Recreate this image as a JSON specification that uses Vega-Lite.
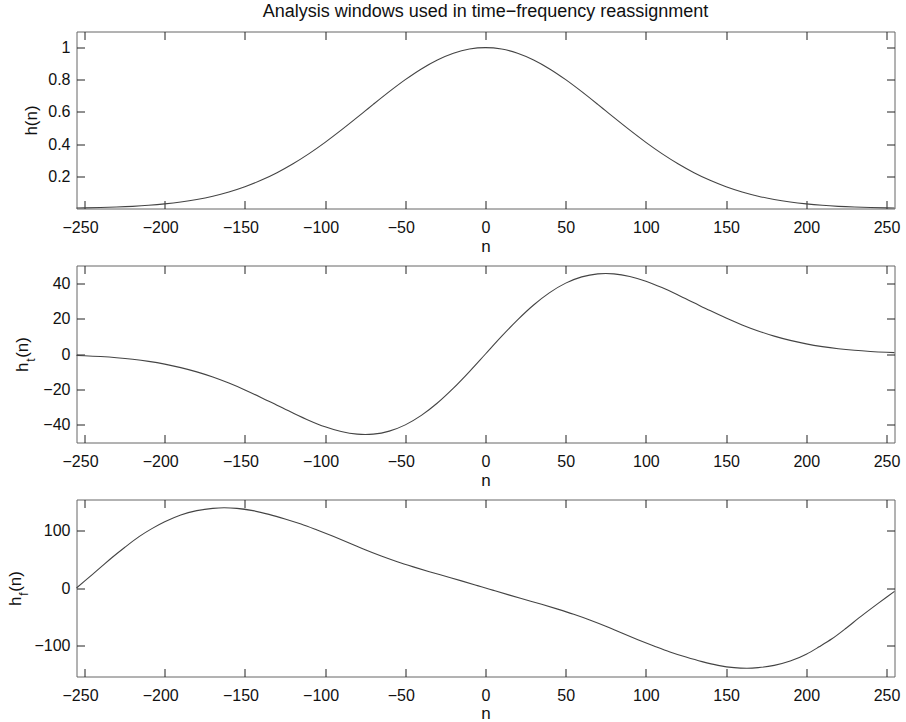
{
  "$schema": "https://vega.github.io/schema/vega-lite/v6.json",
  "padding": {"left": 5.5, "top": 2.5, "right": 5, "bottom": 0},
  "datasets": {
    "w": [
      {"n": -255, "h": 0.0031, "ht": -0.79}, {"n": -250, "h": 0.0039, "ht": -0.97}, {"n": -240, "h": 0.0060, "ht": -1.44},
      {"n": -230, "h": 0.0091, "ht": -2.09}, {"n": -220, "h": 0.0135, "ht": -2.98}, {"n": -210, "h": 0.0198, "ht": -4.17},
      {"n": -200, "h": 0.0286, "ht": -5.71}, {"n": -190, "h": 0.0404, "ht": -7.68}, {"n": -180, "h": 0.0561, "ht": -10.10},
      {"n": -170, "h": 0.0766, "ht": -13.02}, {"n": -160, "h": 0.1027, "ht": -16.44}, {"n": -150, "h": 0.1353, "ht": -20.30},
      {"n": -140, "h": 0.1751, "ht": -24.52}, {"n": -130, "h": 0.2226, "ht": -28.94}, {"n": -120, "h": 0.2780, "ht": -33.36},
      {"n": -110, "h": 0.3411, "ht": -37.52}, {"n": -100, "h": 0.4111, "ht": -41.11}, {"n": -90, "h": 0.4868, "ht": -43.81},
      {"n": -80, "h": 0.5661, "ht": -45.29}, {"n": -75, "h": 0.6065, "ht": -45.49}, {"n": -70, "h": 0.6469, "ht": -45.28},
      {"n": -60, "h": 0.7261, "ht": -43.57}, {"n": -50, "h": 0.8007, "ht": -40.04}, {"n": -40, "h": 0.8674, "ht": -34.70},
      {"n": -30, "h": 0.9231, "ht": -27.69}, {"n": -20, "h": 0.9651, "ht": -19.30}, {"n": -10, "h": 0.9912, "ht": -9.91},
      {"n": 0, "h": 1.0, "ht": 0},
      {"n": 10, "h": 0.9912, "ht": 9.91}, {"n": 20, "h": 0.9651, "ht": 19.30}, {"n": 30, "h": 0.9231, "ht": 27.69},
      {"n": 40, "h": 0.8674, "ht": 34.70}, {"n": 50, "h": 0.8007, "ht": 40.04}, {"n": 60, "h": 0.7261, "ht": 43.57},
      {"n": 70, "h": 0.6469, "ht": 45.28}, {"n": 75, "h": 0.6065, "ht": 45.49}, {"n": 80, "h": 0.5661, "ht": 45.29},
      {"n": 90, "h": 0.4868, "ht": 43.81}, {"n": 100, "h": 0.4111, "ht": 41.11}, {"n": 110, "h": 0.3411, "ht": 37.52},
      {"n": 120, "h": 0.2780, "ht": 33.36}, {"n": 130, "h": 0.2226, "ht": 28.94}, {"n": 140, "h": 0.1751, "ht": 24.52},
      {"n": 150, "h": 0.1353, "ht": 20.30}, {"n": 160, "h": 0.1027, "ht": 16.44}, {"n": 170, "h": 0.0766, "ht": 13.02},
      {"n": 180, "h": 0.0561, "ht": 10.10}, {"n": 190, "h": 0.0404, "ht": 7.68}, {"n": 200, "h": 0.0286, "ht": 5.71},
      {"n": 210, "h": 0.0198, "ht": 4.17}, {"n": 220, "h": 0.0135, "ht": 2.98}, {"n": 230, "h": 0.0091, "ht": 2.09},
      {"n": 240, "h": 0.0060, "ht": 1.44}, {"n": 250, "h": 0.0039, "ht": 0.97}, {"n": 255, "h": 0.0031, "ht": 0.79}
    ],
    "f": [
      {"n": -255, "hf": 0}, {"n": -250, "hf": 12}, {"n": -245, "hf": 24}, {"n": -240, "hf": 36}, {"n": -233, "hf": 53},
      {"n": -225, "hf": 71}, {"n": -216, "hf": 90}, {"n": -208, "hf": 104}, {"n": -200, "hf": 116}, {"n": -190, "hf": 128},
      {"n": -180, "hf": 135.5}, {"n": -170, "hf": 139.5}, {"n": -163, "hf": 140.5}, {"n": -155, "hf": 139.5}, {"n": -145, "hf": 135.5},
      {"n": -135, "hf": 129}, {"n": -125, "hf": 121}, {"n": -115, "hf": 112}, {"n": -105, "hf": 101.5}, {"n": -95, "hf": 90.5},
      {"n": -85, "hf": 79}, {"n": -75, "hf": 67}, {"n": -65, "hf": 56}, {"n": -55, "hf": 46}, {"n": -45, "hf": 37},
      {"n": -35, "hf": 28.5}, {"n": -25, "hf": 20.5}, {"n": -15, "hf": 12.5}, {"n": -5, "hf": 4.2}, {"n": 0, "hf": 0},
      {"n": 5, "hf": -4.2}, {"n": 15, "hf": -12.5}, {"n": 25, "hf": -20.5}, {"n": 35, "hf": -28.5}, {"n": 45, "hf": -37},
      {"n": 55, "hf": -46}, {"n": 65, "hf": -56}, {"n": 75, "hf": -67}, {"n": 85, "hf": -79}, {"n": 95, "hf": -90.5},
      {"n": 105, "hf": -101.5}, {"n": 115, "hf": -112}, {"n": 125, "hf": -121}, {"n": 135, "hf": -129}, {"n": 145, "hf": -135.5},
      {"n": 155, "hf": -139.5}, {"n": 163, "hf": -140.5}, {"n": 170, "hf": -139.5}, {"n": 180, "hf": -135.5}, {"n": 190, "hf": -128},
      {"n": 200, "hf": -116}, {"n": 208, "hf": -103}, {"n": 216, "hf": -89}, {"n": 225, "hf": -70}, {"n": 233, "hf": -52},
      {"n": 240, "hf": -37}, {"n": 245, "hf": -26.5}, {"n": 250, "hf": -16.2}, {"n": 255, "hf": -6}
    ]
  },
  "config": {
    "font": "Liberation Sans",
    "view": {"stroke": "#666", "strokeWidth": 1},
    "axis": {
      "domain": false, "grid": false, "ticks": true, "tickSize": -8, "tickColor": "#222", "tickWidth": 1,
      "labelColor": "#111", "labelFontSize": 16, "titleFontSize": 17, "titleFontWeight": "normal", "titleColor": "#111",
      "labelFlush": false, "labelOverlap": false, "labelBound": false
    },
    "axisLeft": {"titleAngle": -90, "titleAlign": "center", "titleBaseline": "middle", "titleY": 94},
    "title": {"fontSize": 18, "fontWeight": "normal", "color": "#111"}
  },
  "spacing": 57,
  "bounds": "flush",
  "vconcat": [
    {
      "width": 818, "height": 177,
      "title": {"text": "Analysis windows used in time−frequency reassignment", "anchor": "middle", "frame": "group", "offset": 10},
      "data": {"name": "w"},
      "layer": [
        {
          "mark": {"type": "line", "stroke": "#444", "strokeWidth": 1.1, "interpolate": "monotone"},
          "encoding": {
            "x": {"field": "n", "type": "quantitative", "scale": {"domain": [-255, 255], "nice": false, "zero": false},
                  "axis": {"orient": "bottom", "values": [-250, -200, -150, -100, -50, 0, 50, 100, 150, 200, 250], "title": "n", "labelPadding": 19, "titlePadding": 3,
                           "labelOffset": {"condition": {"test": "datum.value < 0", "value": -4.5}, "value": 0}}},
            "y": {"field": "h", "type": "quantitative", "scale": {"domain": [0, 1.1], "nice": false, "zero": false},
                  "axis": {"orient": "left", "values": [0.2, 0.4, 0.6, 0.8, 1], "format": "~g", "title": "h(n)", "labelPadding": 14.5, "titleX": -45, "titleY": 88.5}}
          }
        },
        {
          "mark": {"type": "line", "strokeOpacity": 0},
          "encoding": {
            "x": {"field": "n", "type": "quantitative", "axis": {"orient": "top", "values": [-250, -200, -150, -100, -50, 0, 50, 100, 150, 200, 250], "labels": false, "title": null}},
            "y": {"field": "h", "type": "quantitative", "axis": {"orient": "right", "values": [0.2, 0.4, 0.6, 0.8, 1], "labels": false, "title": null}}
          }
        }
      ],
      "resolve": {"axis": {"x": "independent", "y": "independent"}}
    },
    {
      "width": 818, "height": 177,
      "data": {"name": "w"},
      "layer": [
        {
          "mark": {"type": "line", "stroke": "#444", "strokeWidth": 1.1, "interpolate": "monotone"},
          "encoding": {
            "x": {"field": "n", "type": "quantitative", "scale": {"domain": [-255, 255], "nice": false, "zero": false},
                  "axis": {"orient": "bottom", "values": [-250, -200, -150, -100, -50, 0, 50, 100, 150, 200, 250], "title": "n", "labelPadding": 19, "titlePadding": 3,
                           "labelOffset": {"condition": {"test": "datum.value < 0", "value": -4.5}, "value": 0}}},
            "y": {"field": "ht", "type": "quantitative", "scale": {"domain": [-50, 50], "nice": false, "zero": false},
                  "axis": {"orient": "left", "values": [-40, -20, 0, 20, 40], "title": "h (n)", "labelPadding": 14.5, "titleX": -54, "titleY": 88.5}}
          }
        },
        {
          "mark": {"type": "line", "strokeOpacity": 0},
          "encoding": {
            "x": {"field": "n", "type": "quantitative", "axis": {"orient": "top", "values": [-250, -200, -150, -100, -50, 0, 50, 100, 150, 200, 250], "labels": false,
                  "title": "t", "titleFontSize": 12, "titleAngle": -90, "titleAlign": "center", "titleBaseline": "middle", "titleX": -46, "titleY": 94}},
            "y": {"field": "ht", "type": "quantitative", "axis": {"orient": "right", "values": [-40, -20, 0, 20, 40], "labels": false, "title": null}}
          }
        }
      ],
      "resolve": {"axis": {"x": "independent", "y": "independent"}}
    },
    {
      "width": 818, "height": 177,
      "data": {"name": "f"},
      "layer": [
        {
          "mark": {"type": "line", "stroke": "#444", "strokeWidth": 1.1, "interpolate": "monotone"},
          "encoding": {
            "x": {"field": "n", "type": "quantitative", "scale": {"domain": [-255, 255], "nice": false, "zero": false},
                  "axis": {"orient": "bottom", "values": [-250, -200, -150, -100, -50, 0, 50, 100, 150, 200, 250], "title": "n", "labelPadding": 19, "titlePadding": 2,
                           "labelOffset": {"condition": {"test": "datum.value < 0", "value": -4.5}, "value": 0}}},
            "y": {"field": "hf", "type": "quantitative", "scale": {"domain": [-155, 155], "nice": false, "zero": false},
                  "axis": {"orient": "left", "values": [-100, 0, 100], "title": "h (n)", "labelPadding": 14.5, "titleX": -61, "titleY": 88.5}}
          }
        },
        {
          "mark": {"type": "line", "strokeOpacity": 0},
          "encoding": {
            "x": {"field": "n", "type": "quantitative", "axis": {"orient": "top", "values": [-250, -200, -150, -100, -50, 0, 50, 100, 150, 200, 250], "labels": false,
                  "title": "f", "titleFontSize": 12, "titleAngle": -90, "titleAlign": "center", "titleBaseline": "middle", "titleX": -53, "titleY": 94}},
            "y": {"field": "hf", "type": "quantitative", "axis": {"orient": "right", "values": [-100, 0, 100], "labels": false, "title": null}}
          }
        }
      ],
      "resolve": {"axis": {"x": "independent", "y": "independent"}}
    }
  ]
}
